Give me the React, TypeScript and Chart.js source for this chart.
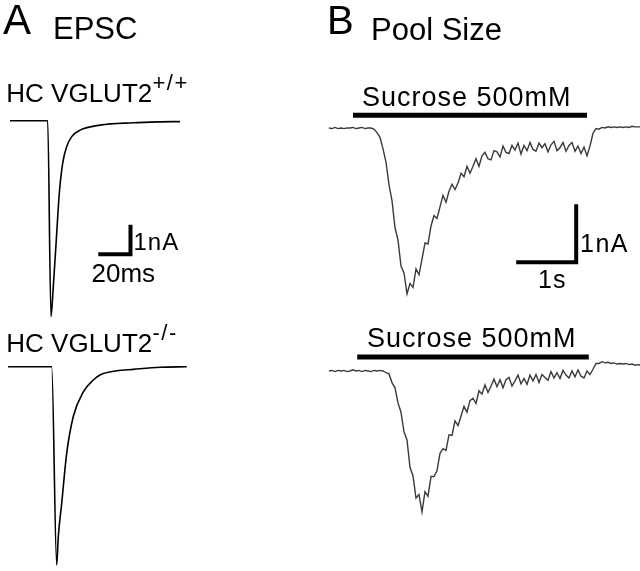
import React, { useEffect, useRef } from "react";
import { Chart, registerables } from "chart.js";

Chart.register(...registerables);

const W = 640;
const H = 571;
const FONT = '"Liberation Sans", Arial, Helvetica, sans-serif';

// ---------- Panel A: EPSC (time in ms, current in nA) ----------
const epscWtTime = [-23.6, -0.19, 1.86, 3.29, 5.4, 7.02, 9.13, 11.61, 14.72, 19.88, 32.3, 52.8, 69.6, 82.0];
const epscWtCurrent = [0, 0, -6.64, -5.63, -3.82, -2.46, -1.44, -0.88, -0.54, -0.32, -0.15, -0.07, -0.04, -0.03];
const epscKoTime = [-24.8, 2.3, 5.4, 6.4, 8.51, 11.61, 15.71, 21.93, 28.14, 32.3, 42.7, 53.0, 69.6, 86.2];
const epscKoCurrent = [0, 0, -6.72, -5.76, -4.63, -2.94, -1.69, -0.85, -0.45, -0.28, -0.14, -0.09, -0.02, 0];

// ---------- Panel B: Pool size, sucrose response (time in s, current in nA) ----------
const poolStartTime = -0.45;
const poolSampleInterval = 0.05;
const poolWtCurrent = [
  0, -0.01, 0.01, -0.01, 0, -0.01, 0, 0, 0.01, -0.01, 0, 0.01, -0.01, 0, 0, -0.02,
  -0.08, -0.16, -0.36, -0.59, -0.98, -1.25, -1.72, -1.93, -2.38, -2.5,
  -2.86, -2.68, -2.75, -2.43, -2.53, -2.26, -1.98, -2.0, -1.69, -1.51,
  -1.56, -1.36, -1.16, -1.28, -1.09, -0.97, -1.06, -0.95, -0.78, -0.84,
  -0.66, -0.78, -0.66, -0.53, -0.66, -0.48, -0.42, -0.53, -0.55, -0.39,
  -0.41, -0.5, -0.31, -0.42, -0.44, -0.3, -0.38, -0.26, -0.45, -0.3,
  -0.39, -0.25, -0.37, -0.4, -0.26, -0.34, -0.27, -0.41, -0.29, -0.23,
  -0.39, -0.34, -0.25, -0.4, -0.3, -0.25, -0.4, -0.31, -0.44, -0.33,
  -0.48, -0.31, -0.09,
  -0.01, -0.02, 0.01, 0, 0.02, 0.01, 0.02, 0.01, 0.02, 0.01, 0.02, 0.01, 0.03, 0.02, 0.02, 0.02,
];
const poolKoCurrent = [
  0, 0.01, -0.01, 0.01, 0, 0.01, -0.01, 0, 0.02, 0, 0.01, -0.01, 0.01, 0, -0.01, 0.01, 0, 0.01, 0,
  -0.03, -0.05, -0.2, -0.29, -0.55, -0.71, -1.05, -1.19, -1.66, -1.81,
  -2.19, -2.13, -2.43, -2.08, -2.16, -1.82, -1.82, -1.72, -1.42, -1.34,
  -1.37, -1.1, -1.11, -0.86, -0.94, -0.78, -0.61, -0.71, -0.51, -0.47,
  -0.56, -0.34, -0.4, -0.24, -0.37, -0.26, -0.14, -0.27, -0.15, -0.29,
  -0.15, -0.11, -0.26, -0.17, -0.07, -0.22, -0.13, -0.23, -0.07, -0.17,
  -0.06, -0.2, -0.06, -0.11, -0.16, -0.01, -0.12, -0.03, -0.13, 0.01,
  -0.07, -0.12, 0.0, -0.1, 0.02, -0.09, -0.12, 0.0, -0.06, 0.03,
  0.13, 0.13, 0.16, 0.14, 0.15, 0.13, 0.14, 0.12, 0.13, 0.12, 0.13, 0.11, 0.12, 0.1, 0.11, 0.1,
];

// Sucrose application periods (s) and bar level (nA above baseline)
const sucroseWt = [-0.05, 3.85];
const sucroseKo = [0.02, 3.88];
const sucroseLevelWt = 0.22;
const sucroseLevelKo = 0.24;

// Scale bars: lengths (time, current) and corner (time, current)
const scaleBarA = { t: 20, i: 1, cornerT: 51.24, cornerI: -4.525 };
const scaleBarB = { t: 1, i: 1, cornerT: 3.67, cornerI: -2.316 };

function linRange(originPx: number, pxPerUnit: number, size: number, invert: boolean) {
  if (!invert) return { min: -originPx / pxPerUnit, max: (size - originPx) / pxPerUnit };
  return { min: -(size - originPx) / pxPerUnit, max: originPx / pxPerUnit };
}

function zip(xs: number[], ys: number[]) {
  return xs.map((x, k) => ({ x, y: ys[k] }));
}

function sampled(start: number, dt: number, ys: number[]) {
  return ys.map((y, k) => ({ x: start + k * dt, y }));
}

function scaleBar(b: { t: number; i: number; cornerT: number; cornerI: number }) {
  return [
    { x: b.cornerT - b.t, y: b.cornerI },
    { x: b.cornerT, y: b.cornerI },
    { x: b.cornerT, y: b.cornerI + b.i },
  ];
}

function Label(props: { x: number; baseline: number; size: number; ls?: number; children: React.ReactNode }) {
  const { x, baseline, size, ls = 0, children } = props;
  return (
    <span
      style={{
        position: "absolute",
        left: x,
        top: baseline - 0.8465 * size,
        fontSize: size,
        lineHeight: `${size}px`,
        fontFamily: FONT,
        letterSpacing: ls,
        whiteSpace: "nowrap",
        color: "#000",
      }}
    >
      {children}
    </span>
  );
}

export default function App() {
  const ref = useRef<HTMLCanvasElement | null>(null);

  useEffect(() => {
    if (!ref.current) return;
    const hide = { type: "linear" as const, display: false, bounds: "data" as const };
    const traceA = {
      borderColor: "#000",
      borderWidth: 1.6,
      pointRadius: 0,
      cubicInterpolationMode: "monotone" as const,
      xAxisID: "xA",
    };
    const traceB = {
      borderColor: "#3a3a3a",
      borderWidth: 1.4,
      pointRadius: 0,
      tension: 0,
      xAxisID: "xB",
    };
    const bar = {
      borderColor: "#000",
      pointRadius: 0,
      tension: 0,
      borderCapStyle: "butt" as const,
      borderJoinStyle: "miter" as const,
    };
    const chart = new Chart(ref.current, {
      type: "line",
      data: {
        datasets: [
          { ...traceA, label: "HC VGLUT2+/+ EPSC", yAxisID: "yA1", data: zip(epscWtTime, epscWtCurrent) },
          { ...traceA, label: "HC VGLUT2-/- EPSC", yAxisID: "yA2", data: zip(epscKoTime, epscKoCurrent) },
          { ...bar, label: "scale A", borderWidth: 4, xAxisID: "xA", yAxisID: "yA1", data: scaleBar(scaleBarA) },
          { ...traceB, label: "HC VGLUT2+/+ pool", yAxisID: "yB1", data: sampled(poolStartTime, poolSampleInterval, poolWtCurrent) },
          { ...traceB, label: "HC VGLUT2-/- pool", yAxisID: "yB2", data: sampled(poolStartTime, poolSampleInterval, poolKoCurrent) },
          {
            ...bar,
            label: "sucrose +/+",
            borderWidth: 5,
            xAxisID: "xB",
            yAxisID: "yB1",
            data: [
              { x: sucroseWt[0], y: sucroseLevelWt },
              { x: sucroseWt[1], y: sucroseLevelWt },
            ],
          },
          {
            ...bar,
            label: "sucrose -/-",
            borderWidth: 5,
            xAxisID: "xB",
            yAxisID: "yB2",
            data: [
              { x: sucroseKo[0], y: sucroseLevelKo },
              { x: sucroseKo[1], y: sucroseLevelKo },
            ],
          },
          { ...bar, label: "scale B", borderWidth: 4, xAxisID: "xB", yAxisID: "yB1", data: scaleBar(scaleBarB) },
        ],
      },
      options: {
        animation: false,
        responsive: false,
        devicePixelRatio: 1,
        events: [],
        layout: { padding: 0, autoPadding: false },
        plugins: { legend: { display: false }, tooltip: { enabled: false }, title: { display: false } },
        scales: {
          xA: { ...hide, position: "bottom", ...linRange(48, 1.61, W, false) },
          yA1: { ...hide, position: "left", ...linRange(120.7, 29.5, H, true) },
          yA2: { ...hide, position: "left", ...linRange(366.7, 29.5, H, true) },
          xB: { ...hide, position: "bottom", ...linRange(356, 60, W, false) },
          yB1: { ...hide, position: "left", ...linRange(128, 58, H, true) },
          yB2: { ...hide, position: "left", ...linRange(371, 58, H, true) },
        },
      } as any,
    });
    return () => chart.destroy();
  }, []);

  return (
    <div style={{ position: "fixed", left: 0, top: 0, width: W, height: H, background: "#fff", overflow: "hidden" }}>
      <canvas ref={ref} width={W} height={H} style={{ position: "absolute", left: 0, top: 0, width: W, height: H }} />
      <Label x={3} baseline={35} size={42}>A</Label>
      <Label x={53} baseline={39.5} size={31}>EPSC</Label>
      <Label x={327} baseline={34} size={40}>B</Label>
      <Label x={371} baseline={40} size={31}>Pool Size</Label>
      <Label x={6.3} baseline={101.7} size={26}>HC VGLUT2</Label>
      <Label x={152.5} baseline={91} size={22} ls={1.5}>+/+</Label>
      <Label x={6.3} baseline={352.3} size={26}>HC VGLUT2</Label>
      <Label x={152.5} baseline={341} size={22} ls={1.5}>-/-</Label>
      <Label x={362} baseline={107.3} size={27} ls={1}>Sucrose 500mM</Label>
      <Label x={367} baseline={348.3} size={27} ls={1}>Sucrose 500mM</Label>
      <Label x={133.5} baseline={250} size={24} ls={1}>1nA</Label>
      <Label x={91.5} baseline={282.3} size={26}>20ms</Label>
      <Label x={580} baseline={251.7} size={25} ls={1.5}>1nA</Label>
      <Label x={538} baseline={287.7} size={25} ls={1}>1s</Label>
    </div>
  );
}
